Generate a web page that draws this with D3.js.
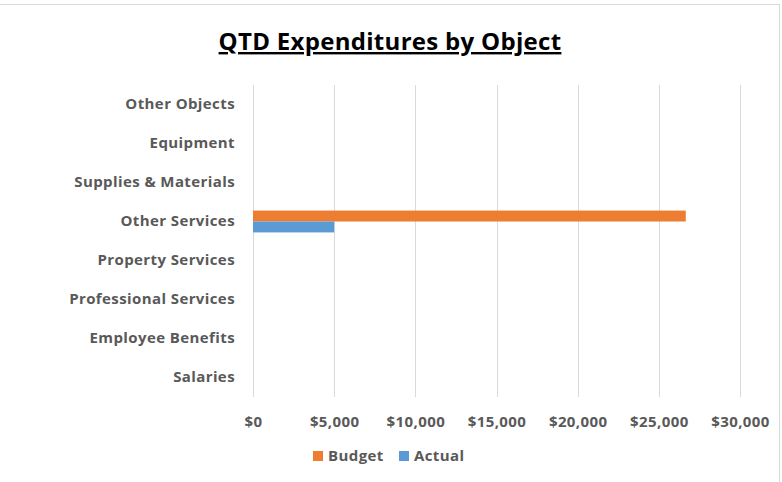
<!DOCTYPE html>
<html>
<head>
<meta charset="utf-8">
<script src="https://cdn.jsdelivr.net/npm/d3@7"></script>
<style>
  html, body { margin: 0; padding: 0; background: #fff; }
  svg { display: block; }
  text { font-family: "Open Sans", sans-serif; }
</style>
</head>
<body>
<svg id="chart" width="782" height="482"></svg>
<script>
// Expense objects, listed bottom to top as shown on the axis
const categories = [
  "Salaries",
  "Employee Benefits",
  "Professional Services",
  "Property Services",
  "Other Services",
  "Supplies & Materials",
  "Equipment",
  "Other Objects"
];
const seriesNames = ["Budget", "Actual"];
const budgetValues = [0, 0, 0, 0, 26660, 0, 0, 0];
const actualValues = [0, 0, 0, 0, 5000, 0, 0, 0];
const tickValues = [0, 5000, 10000, 15000, 20000, 25000, 30000];
const colors = { Budget: "#ED7D31", Actual: "#5B9BD5" };

const svg = d3.select("#chart");
const W = 782, H = 482;
const margin = { left: 253, right: 42, top: 85, bottom: 85 };
const plotW = W - margin.left - margin.right;
const plotH = H - margin.top - margin.bottom;

const labelStyle = sel => sel
  .attr("font-family", "'Open Sans', sans-serif")
  .attr("font-size", 15).attr("font-weight", 700)
  .attr("letter-spacing", 0.4).attr("fill", "#595959");

// Chart frame
svg.append("rect")
  .attr("x", -2).attr("y", 4.5)
  .attr("width", 781.5).attr("height", 490)
  .attr("fill", "#fff").attr("stroke", "#D9D9D9").attr("stroke-width", 1);

// Title
svg.append("text")
  .attr("x", 390).attr("y", 50)
  .attr("text-anchor", "middle")
  .attr("font-size", 24).attr("font-weight", 700)
  .attr("letter-spacing", 0.3)
  .attr("fill", "#000")
  .attr("text-decoration", "underline")
  .text("QTD Expenditures by Object");

const g = svg.append("g").attr("transform", `translate(${margin.left},${margin.top})`);

const x = d3.scaleLinear().domain([0, 30000]).range([0, plotW]);
// top row is the last category
const y = d3.scaleBand().domain(categories.slice().reverse()).range([0, plotH]);
const yInner = d3.scaleBand().domain(seriesNames).range([0, y.bandwidth() * 0.56]);
const innerOffset = (y.bandwidth() - yInner.range()[1]) / 2;

// Vertical gridlines
g.append("g").selectAll("line").data(tickValues).join("line")
  .attr("x1", d => Math.round(x(d)) + 0.5).attr("x2", d => Math.round(x(d)) + 0.5)
  .attr("y1", 0).attr("y2", plotH)
  .attr("stroke", "#D9D9D9").attr("stroke-width", 1);

// Bars
const rows = categories.map((c, i) => ({ cat: c, Budget: budgetValues[i], Actual: actualValues[i] }));
const rowG = g.append("g").selectAll("g").data(rows).join("g")
  .attr("transform", d => `translate(0,${y(d.cat) + innerOffset})`);
rowG.selectAll("rect")
  .data(d => seriesNames.map(s => ({ s, v: d[s] })))
  .join("rect")
  .attr("x", x(0))
  .attr("y", d => yInner(d.s))
  .attr("width", d => x(d.v) - x(0))
  .attr("height", yInner.bandwidth())
  .attr("fill", d => colors[d.s]);

// Category axis
const yAxis = d3.axisLeft(y).tickSize(0).tickPadding(18);
const yg = g.append("g").call(yAxis);
yg.select(".domain").remove();
yg.selectAll("text").call(labelStyle);

// Value axis
const xAxis = d3.axisBottom(x).tickValues(tickValues).tickSize(0).tickPadding(19)
  .tickFormat(d => "$" + d3.format(",")(d));
const xg = g.append("g").attr("transform", `translate(0,${plotH})`).call(xAxis);
xg.select(".domain").remove();
xg.selectAll("text").call(labelStyle);

// Legend
const legend = svg.append("g").attr("transform", "translate(313,451)");
const legendX = [0, 86];
seriesNames.forEach((s, i) => {
  const lg = legend.append("g").attr("transform", `translate(${legendX[i]},0)`);
  lg.append("rect").attr("width", 10).attr("height", 10).attr("fill", colors[s]);
  lg.append("text").attr("x", 15).attr("y", 9.5)
    .call(labelStyle)
    .text(s);
});
</script>
</body>
</html>
